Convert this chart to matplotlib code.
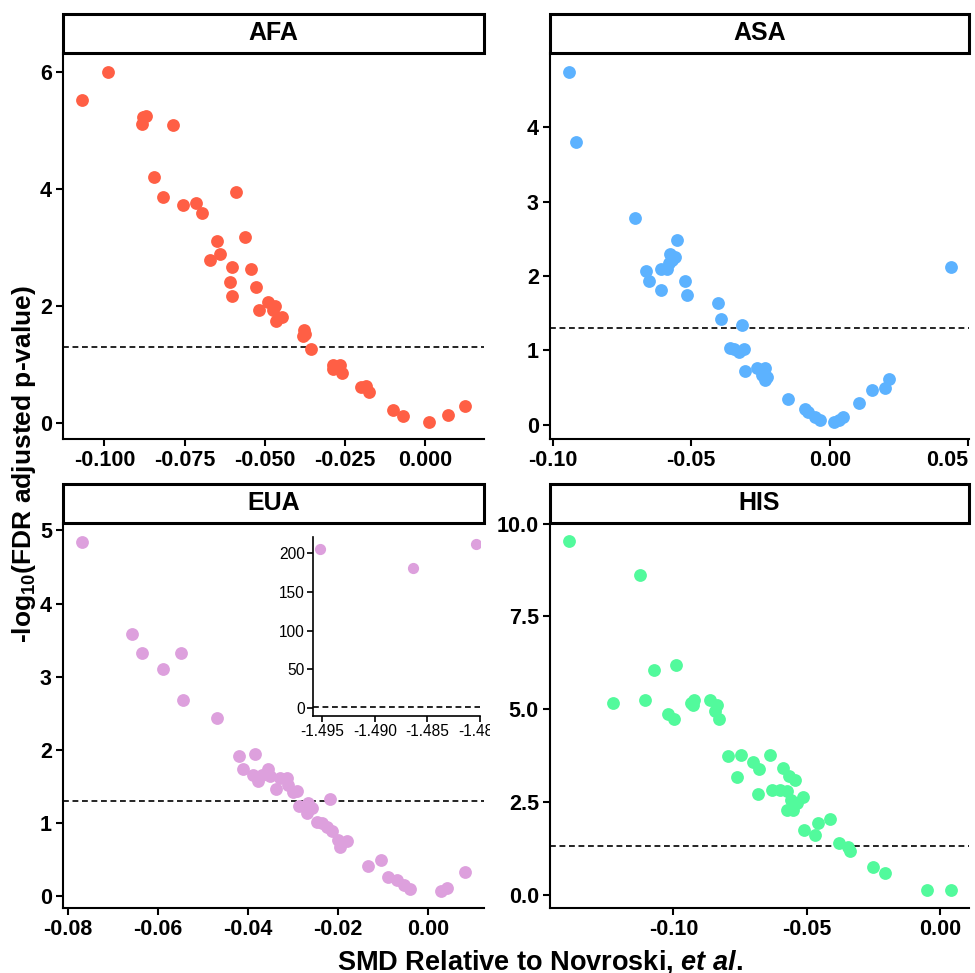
import matplotlib
matplotlib.use("Agg")
import matplotlib.pyplot as plt
from matplotlib.patches import Rectangle
from matplotlib.transforms import Bbox

plt.rcParams["font.family"] = ["Liberation Sans", "DejaVu Sans"]
plt.rcParams["axes.unicode_minus"] = False
plt.rcParams["mathtext.fontset"] = "custom"
plt.rcParams["mathtext.rm"] = "Liberation Sans:bold"
plt.rcParams["mathtext.it"] = "Liberation Sans:italic:bold"

SIG = 1.301  # -log10(0.05)

# ---- data ----
afa_x = [-0.1071, -0.0990, -0.0882, -0.0878, -0.0870, -0.0785, -0.0844, -0.0816,
         -0.0754, -0.0714, -0.0694, -0.0589, -0.0648, -0.0639, -0.0670, -0.0561,
         -0.0603, -0.0608, -0.0603, -0.0544, -0.0527, -0.0518, -0.0489, -0.0468,
         -0.0473, -0.0465, -0.0447, -0.0377, -0.0373, -0.0381, -0.0356, -0.0286,
         -0.0275, -0.0265, -0.0286, -0.0260, -0.0201, -0.0184, -0.0174, -0.0099,
         -0.0070, 0.0012, 0.0071, 0.0125]
afa_y = [5.52, 6.00, 5.10, 5.22, 5.24, 5.09, 4.20, 3.86,
         3.72, 3.76, 3.58, 3.95, 3.11, 2.88, 2.78, 3.18,
         2.66, 2.41, 2.17, 2.64, 2.32, 1.94, 2.07, 2.00,
         1.93, 1.75, 1.81, 1.59, 1.53, 1.48, 1.26, 1.00,
         0.96, 1.00, 0.93, 0.86, 0.62, 0.64, 0.53, 0.23,
         0.13, 0.02, 0.14, 0.29]

asa_x = [-0.0941, -0.0915, -0.0704, -0.0662, -0.0652, -0.0610, -0.0610, -0.0586,
         -0.0576, -0.0568, -0.0558, -0.0552, -0.0582, -0.0522, -0.0516, -0.0404,
         -0.0394, -0.0315, -0.0359, -0.0347, -0.0329, -0.0311, -0.0305, -0.0263,
         -0.0235, -0.0245, -0.0233, -0.0227, -0.0149, -0.0091, -0.0077, -0.0052,
         -0.0034, 0.0014, 0.0032, 0.0047, 0.0106, 0.0152, 0.0200, 0.0215, 0.0439]
asa_y = [4.75, 3.80, 2.78, 2.07, 1.94, 1.82, 2.10, 2.10,
         2.30, 2.22, 2.26, 2.48, 2.17, 1.94, 1.74, 1.64,
         1.43, 1.34, 1.04, 1.02, 0.98, 1.02, 0.72, 0.76,
         0.76, 0.67, 0.60, 0.64, 0.35, 0.22, 0.17, 0.10,
         0.07, 0.04, 0.07, 0.10, 0.29, 0.47, 0.50, 0.62, 2.12]

eua_x = [-0.0769, -0.0658, -0.0636, -0.0588, -0.0549, -0.0543, -0.0468, -0.0419,
         -0.0410, -0.0384, -0.0388, -0.0377, -0.0370, -0.0355, -0.0351, -0.0338,
         -0.0329, -0.0314, -0.0311, -0.0301, -0.0291, -0.0218, -0.0286, -0.0266,
         -0.0270, -0.0259, -0.0248, -0.0237, -0.0226, -0.0214, -0.0200, -0.0196,
         -0.0181, -0.0135, -0.0106, -0.0089, -0.0070, -0.0055, -0.0041, 0.0027,
         0.0041, 0.0081]
eua_y = [4.84, 3.59, 3.33, 3.11, 3.33, 2.68, 2.44, 1.91,
         1.74, 1.95, 1.66, 1.58, 1.66, 1.74, 1.64, 1.46,
         1.61, 1.61, 1.52, 1.43, 1.44, 1.33, 1.23, 1.27,
         1.14, 1.20, 1.02, 1.00, 0.95, 0.89, 0.77, 0.68,
         0.75, 0.42, 0.50, 0.27, 0.22, 0.16, 0.10, 0.07,
         0.11, 0.33]

# EUA outliers shown in the inset
eua_out_x = [-1.4952, -1.4864, -1.4804]
eua_out_y = [205.0, 180.5, 211.0]

his_x = [-0.1391, -0.1125, -0.1228, -0.1106, -0.1073, -0.0989, -0.1021, -0.0996,
         -0.0934, -0.0925, -0.0921, -0.0863, -0.0838, -0.0844, -0.0828, -0.0796,
         -0.0746, -0.0763, -0.0700, -0.0679, -0.0638, -0.0681, -0.0631, -0.0600,
         -0.0588, -0.0566, -0.0544, -0.0575, -0.0559, -0.0575, -0.0550, -0.0538,
         -0.0513, -0.0509, -0.0469, -0.0456, -0.0413, -0.0379, -0.0344, -0.0338,
         -0.0250, -0.0206, -0.0050, 0.0041]
his_y = [9.53, 8.63, 5.17, 5.26, 6.07, 6.19, 4.86, 4.74,
         5.17, 5.10, 5.26, 5.24, 5.10, 4.95, 4.74, 3.73,
         3.77, 3.17, 3.57, 3.39, 3.77, 2.72, 2.81, 2.81,
         3.42, 3.21, 3.10, 2.79, 2.56, 2.29, 2.29, 2.47,
         2.63, 1.74, 1.62, 1.93, 2.04, 1.39, 1.29, 1.17,
         0.75, 0.58, 0.12, 0.12]

panels = [
    ("AFA", afa_x, afa_y, "#FF5F45", [-0.100, -0.075, -0.050, -0.025, 0.000], "%.3f",
     [0, 2, 4, 6], "%d", (-0.1129, 0.0184), (-0.27, 6.32)),
    ("ASA", asa_x, asa_y, "#5CB2FF", [-0.10, -0.05, 0.00, 0.05], "%.2f",
     [0, 1, 2, 3, 4], "%d", (-0.101, 0.0503), (-0.19, 5.0)),
    ("EUA", eua_x, eua_y, "#DDA0DD", [-0.08, -0.06, -0.04, -0.02, 0.00], "%.2f",
     [0, 1, 2, 3, 4, 5], "%d", (-0.081, 0.0123), (-0.16, 5.1)),
    ("HIS", his_x, his_y, "#52FA9C", [-0.10, -0.05, 0.00], "%.2f",
     [0, 2.5, 5, 7.5, 10], "%.1f", (-0.1463, 0.0109), (-0.36, 10.02)),
]

W, H = 975, 973
fig = plt.figure(figsize=(W / 100, H / 100), dpi=100)

# panel boxes in pixels: left, right, top, bottom
boxes = [(63, 484, 53, 439), (550, 969, 53, 439), (63, 484, 523, 908), (550, 969, 523, 908)]
STRIP = 39


def style_axes(ax, size, bold=True, lw=1.5):
    for s in ("top", "right"):
        ax.spines[s].set_visible(False)
    for s in ("left", "bottom"):
        ax.spines[s].set_linewidth(lw)
    ax.tick_params(length=5, width=lw, labelsize=size, pad=3)
    for lab in ax.get_xticklabels() + ax.get_yticklabels():
        lab.set_fontweight("bold" if bold else "normal")


axes = []
for (name, xs, ys, col, xt, xf, yt, yf, xl, yl), (l, r, t, b) in zip(panels, boxes):
    ax = fig.add_axes([l / W, (H - b) / H, (r - l) / W, (b - t) / H])
    ax.scatter(xs, ys, s=85, color=col, linewidths=0, zorder=3)
    ax.axhline(SIG, color="black", linestyle=(0, (3.5, 2.2)), linewidth=1.2, zorder=2)
    ax.set_xlim(*xl)
    ax.set_ylim(*yl)
    ax.set_xticks(xt)
    ax.set_xticklabels([xf % v for v in xt])
    ax.set_yticks(yt)
    ax.set_yticklabels([yf % v for v in yt])
    style_axes(ax, 15.5)
    frac = STRIP / (b - t)
    ax.add_patch(Rectangle((0, 1), 1, frac, transform=ax.transAxes, clip_on=False,
                           facecolor="white", edgecolor="black", linewidth=2.2, zorder=5))
    ax.text(0.5, 1 + frac / 2, name, transform=ax.transAxes, ha="center", va="center",
            fontsize=18, fontweight="bold", zorder=6)
    axes.append(ax)

# last ASA x label sits flush with the right edge
axes[1].get_xticklabels()[-1].set_horizontalalignment("right")

# inset for EUA outliers
l, r, t, b = 313, 480, 537, 716
ins = fig.add_axes([l / W, (H - b) / H, (r - l) / W, (b - t) / H])
ins.scatter(eua_out_x, eua_out_y, s=65, color="#DDA0DD", linewidths=0, zorder=3)
ins.axhline(SIG, color="black", linestyle=(0, (3.5, 2.2)), linewidth=1.2)
ins.set_xlim(-1.4959, -1.4801)
ins.set_ylim(-9.9, 220.6)
in_xt = [-1.495, -1.490, -1.485, -1.480]
ins.set_xticks(in_xt)
ins.set_xticklabels(["%.3f" % v for v in in_xt])
in_yt = [0, 50, 100, 150, 200]
ins.set_yticks(in_yt)
ins.set_yticklabels(["%d" % v for v in in_yt])
style_axes(ins, 11.2, bold=False, lw=1.2)
ins.tick_params(length=4, pad=2)
clip = Bbox.from_extents(0, 0, 490, H)
for lab in ins.get_xticklabels():
    lab.set_clip_box(clip)
    lab.set_clip_on(True)

fig.text(24 / W, 1 - 464 / H, r"-log$_{10}$(FDR adjusted p-value)", rotation=90,
         ha="center", va="center", fontsize=19, fontweight="bold")
fig.text(540 / W, 1 - 970 / H, r"SMD Relative to Novroski, $et\ al.$",
         ha="center", va="baseline", fontsize=19.5, fontweight="bold")

fig.savefig("out.png", dpi=100)
